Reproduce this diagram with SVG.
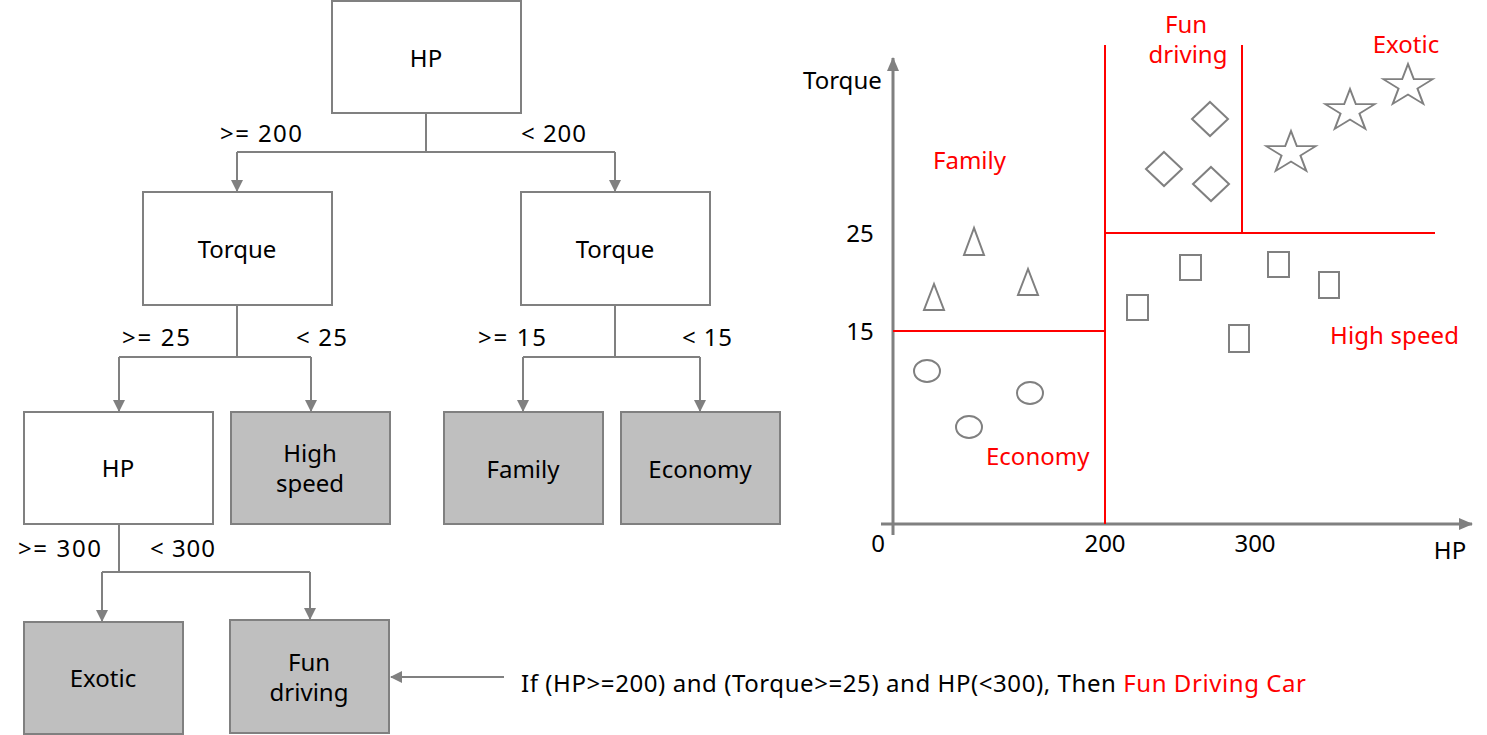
<svg xmlns="http://www.w3.org/2000/svg" width="1487" height="735" viewBox="0 0 1487 735">
<defs>
<marker id="ah" markerWidth="12" markerHeight="12" refX="11" refY="6" orient="auto" markerUnits="userSpaceOnUse"><path d="M0,0 L12,6 L0,12 Z" fill="#808080"/></marker>
<marker id="axh" markerWidth="14" markerHeight="14" refX="13" refY="7" orient="auto" markerUnits="userSpaceOnUse"><path d="M0,1 L14,7 L0,13 Z" fill="#808080"/></marker>
<style>
text{font-family:"Noto Sans","Open Sans","Noto Sans CJK KR",sans-serif;font-size:24px;fill:#000}
.c{text-anchor:middle}
.r{fill:#ff0000}
.box{fill:#ffffff;stroke:#808080;stroke-width:2}
.leaf{fill:#bfbfbf;stroke:#808080;stroke-width:2}
.con{fill:none;stroke:#808080;stroke-width:2}
.rl{stroke:#ff0000;stroke-width:2;fill:none}
.ax{stroke:#808080;stroke-width:3;fill:none}
.pt{fill:none;stroke:#808080;stroke-width:2}
</style>
</defs>
<rect width="1487" height="735" fill="#ffffff"/>

<g id="connectors">
<path class="con" d="M426,113 V152 M237,152 H615"/>
<path class="con" d="M237,152 V191" marker-end="url(#ah)"/>
<path class="con" d="M615,152 V191" marker-end="url(#ah)"/>
<path class="con" d="M237,305 V357 M119,357 H311"/>
<path class="con" d="M119,357 V411" marker-end="url(#ah)"/>
<path class="con" d="M311,357 V411" marker-end="url(#ah)"/>
<path class="con" d="M615,305 V357 M523,357 H700"/>
<path class="con" d="M523,357 V411" marker-end="url(#ah)"/>
<path class="con" d="M700,357 V411" marker-end="url(#ah)"/>
<path class="con" d="M119,524 V572 M102,572 H310"/>
<path class="con" d="M102,572 V621" marker-end="url(#ah)"/>
<path class="con" d="M310,572 V619" marker-end="url(#ah)"/>
<path class="con" d="M504,677 H391" marker-end="url(#ah)"/>
</g>

<g id="edge-labels">
<text x="220" y="142" textLength="82" lengthAdjust="spacing">&gt;= 200</text>
<text x="521" y="142" textLength="65" lengthAdjust="spacing">&lt; 200</text>
<text x="122" y="346" textLength="68" lengthAdjust="spacing">&gt;= 25</text>
<text x="296" y="346" textLength="51" lengthAdjust="spacing">&lt; 25</text>
<text x="478" y="346" textLength="68" lengthAdjust="spacing">&gt;= 15</text>
<text x="682" y="346" textLength="50" lengthAdjust="spacing">&lt; 15</text>
<text x="18" y="557" textLength="83" lengthAdjust="spacing">&gt;= 300</text>
<text x="150" y="557" textLength="65" lengthAdjust="spacing">&lt; 300</text>
</g>

<g id="n-root"><rect class="box" x="332" y="1" width="189" height="112"/><text class="c" x="426" y="67">HP</text></g>
<g id="n-torque-l"><rect class="box" x="143" y="192" width="189" height="113"/><text class="c" x="237" y="258">Torque</text></g>
<g id="n-torque-r"><rect class="box" x="521" y="192" width="189" height="113"/><text class="c" x="615" y="258">Torque</text></g>
<g id="n-hp2"><rect class="box" x="24" y="412" width="189" height="112"/><text class="c" x="118" y="477">HP</text></g>
<g id="n-highspeed"><rect class="leaf" x="231" y="412" width="159" height="112"/><text class="c" x="310" y="462">High</text><text class="c" x="310" y="492">speed</text></g>
<g id="n-family"><rect class="leaf" x="444" y="412" width="159" height="112"/><text class="c" x="523" y="478">Family</text></g>
<g id="n-economy"><rect class="leaf" x="621" y="412" width="159" height="112"/><text class="c" x="700" y="478">Economy</text></g>
<g id="n-exotic"><rect class="leaf" x="24" y="622" width="159" height="112"/><text class="c" x="103" y="687">Exotic</text></g>
<g id="n-fun"><rect class="leaf" x="230" y="620" width="159" height="113"/><text class="c" x="309" y="671">Fun</text><text class="c" x="309" y="701">driving</text></g>

<g id="rule"><text x="521" y="692" textLength="785" lengthAdjust="spacing">If (HP&gt;=200) and (Torque&gt;=25) and HP(&lt;300), Then <tspan class="r">Fun Driving Car</tspan></text></g>

<g id="plot">
<path class="ax" d="M893,535 V58" marker-end="url(#axh)"/>
<path class="ax" d="M881,524 H1472" marker-end="url(#axh)"/>
<path class="rl" d="M1105,45 V524 M1242,45 V233 M1105,233 H1435 M893,331 H1105"/>

<text x="803" y="89">Torque</text>
<text class="c" x="860" y="242">25</text>
<text class="c" x="860" y="340">15</text>
<text class="c" x="878" y="552">0</text>
<text class="c" x="1105" y="552">200</text>
<text class="c" x="1255" y="552">300</text>
<text class="c" x="1450" y="559">HP</text>

<text class="c r" x="1186" y="33">Fun</text>
<text class="c r" x="1188" y="63">driving</text>
<text class="c r" x="1406" y="53">Exotic</text>
<text class="r" x="933" y="169">Family</text>
<text class="r" x="1330" y="344" textLength="129" lengthAdjust="spacing">High speed</text>
<text class="r" x="986" y="465">Economy</text>

<g id="triangles">
<path class="pt" d="M974,228 L964,255 L984,255 Z"/>
<path class="pt" d="M934,284 L924,310 L944,310 Z"/>
<path class="pt" d="M1028,269 L1018,295 L1038,295 Z"/>
</g>
<g id="circles">
<ellipse class="pt" cx="927" cy="371" rx="13" ry="11"/>
<ellipse class="pt" cx="1030" cy="393" rx="13" ry="11"/>
<ellipse class="pt" cx="969" cy="427" rx="13" ry="11"/>
</g>
<g id="squares">
<rect class="pt" x="1127" y="295" width="21" height="25"/>
<rect class="pt" x="1180" y="255" width="21" height="25"/>
<rect class="pt" x="1268" y="252" width="21" height="25"/>
<rect class="pt" x="1319" y="272" width="20" height="26"/>
<rect class="pt" x="1229" y="325" width="20" height="27"/>
</g>
<g id="diamonds">
<path class="pt" d="M1210,102 L1228,119 L1210,136 L1192,119 Z"/>
<path class="pt" d="M1164,152 L1182,169 L1164,186 L1146,169 Z"/>
<path class="pt" d="M1211,167 L1229,184 L1211,201 L1193,184 Z"/>
</g>
<g id="stars">
<path class="pt" transform="translate(1291,153) scale(1,0.85)" d="M0,-26 L5.84,-8.04 L24.73,-8.04 L9.45,3.07 L15.28,21.03 L0,9.94 L-15.28,21.03 L-9.45,3.07 L-24.73,-8.04 L-5.84,-8.04 Z"/>
<path class="pt" transform="translate(1350,111) scale(1,0.85)" d="M0,-26 L5.84,-8.04 L24.73,-8.04 L9.45,3.07 L15.28,21.03 L0,9.94 L-15.28,21.03 L-9.45,3.07 L-24.73,-8.04 L-5.84,-8.04 Z"/>
<path class="pt" transform="translate(1408,86) scale(1,0.85)" d="M0,-26 L5.84,-8.04 L24.73,-8.04 L9.45,3.07 L15.28,21.03 L0,9.94 L-15.28,21.03 L-9.45,3.07 L-24.73,-8.04 L-5.84,-8.04 Z"/>
</g>
</g>
</svg>
